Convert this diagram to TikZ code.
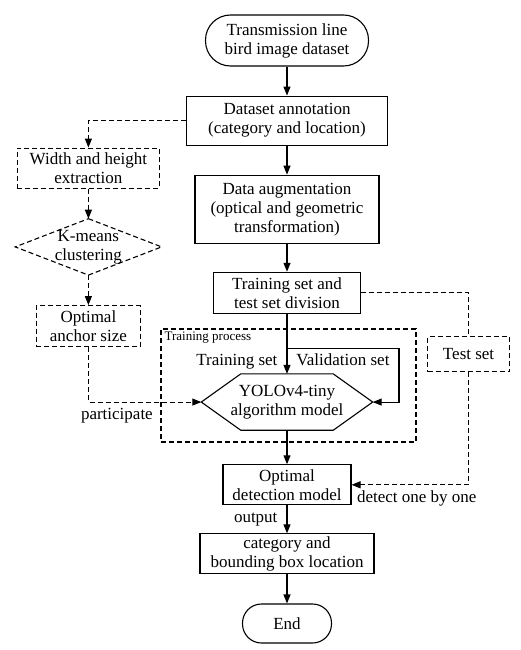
\documentclass[tikz,border=0pt]{standalone}
\usepackage{fontspec}
\setmainfont{Liberation Serif}
\usetikzlibrary{arrows.meta,positioning}
\tikzset{
  proc/.style={draw, line width=1.1pt, align=center, inner sep=2pt},
  dproc/.style={proc, dash pattern=on 5pt off 3pt},
  term/.style={proc, rounded corners=#1},
  shapebox/.style={align=center, inner sep=0pt},
  flow/.style={-{Triangle[length=9pt,width=7pt]}, line width=1.1pt},
  dflow/.style={flow, dash pattern=on 5pt off 3pt},
  dline/.style={line width=1.1pt, dash pattern=on 5pt off 3pt},
  lbl/.style={inner sep=0pt},
}

\begin{document}
\begin{tikzpicture}[x=1pt, y=1pt, font=\fontsize{17}{19}\selectfont, node distance=29pt]
  \useasboundingbox (0,0) rectangle (520,-650);
  % training process frame
  \node[dline, draw, minimum width=255pt, minimum height=113pt] (tp) at (288.5,-385.5) {};
  \node[lbl, anchor=north west, font=\fontsize{13}{15}\selectfont] (tpl) at ([xshift=4pt,yshift=-3pt]tp.north west) {Training process};
  % main column
  \node[term=25pt, minimum width=163pt, minimum height=51pt] (start) at (287,-40.5) {Transmission line\\bird image dataset};
  \node[proc, minimum width=201pt, minimum height=49pt, below=of start] (ann) {Dataset annotation\\(category and location)};
  \node[proc, minimum width=184pt, minimum height=68pt, below=of ann] (aug) {Data augmentation\\(optical and geometric\\transformation)};
  \node[proc, minimum width=147pt, minimum height=41pt, below=28pt of aug] (div) {Training set and\\test set division};
  \node[shapebox, minimum width=171pt, minimum height=56pt, below=60pt of div] (yolo) {YOLOv4-tiny\\algorithm model};
  \draw[line width=1.1pt] (yolo.west) -- ([xshift=39.5pt]yolo.north west) -- ([xshift=-39.5pt]yolo.north east)
    -- (yolo.east) -- ([xshift=-39.5pt]yolo.south east) -- ([xshift=39.5pt]yolo.south west) -- cycle;
  \node[proc, minimum width=128pt, minimum height=40pt, below=34pt of yolo] (opt) {Optimal\\detection model};
  \node[proc, minimum width=174pt, minimum height=40pt, below=28pt of opt] (res) {category and\\bounding box location};
  \node[term=19pt, minimum width=89pt, minimum height=39pt, below=of res] (end) {End};
  % left column
  \node[dproc, minimum width=142pt, minimum height=40pt, below left=27pt and 26pt of ann.west] (wh) {Width and height\\extraction};
  \node[shapebox, minimum width=146pt, minimum height=56pt, below=30pt of wh] (km) {K-means\\clustering};
  \draw[dline] (km.north) -- (km.east) -- (km.south) -- (km.west) -- cycle;
  \node[dproc, minimum width=104pt, minimum height=41pt, below=30pt of km] (anc) {Optimal\\anchor size};
  % right column
  \node[dproc, minimum width=82pt, minimum height=35pt, below right=43.5pt and 66pt of div.east] (test) {Test set};

  \draw[flow] (start) -- (ann);
  \draw[flow] (ann) -- (aug);
  \draw[flow] (aug) -- (div);
  \draw[flow] (div) -- node[lbl, pos=0.8, left=9pt] (lts) {Training set} (yolo);
  \draw[flow] ([yshift=-35pt]div.south) -- node[lbl, midway, below=4pt] (lvs) {Validation set} ++(112pt,0) |- (yolo.east);
  \draw[flow] (yolo) -- (opt);
  \draw[flow] (opt) -- node[lbl, left=9pt] (lout) {output} (res);
  \draw[flow] (res) -- (end);
  \draw[dflow] (ann.west) -| (wh.north);
  \draw[dflow] (wh) -- (km);
  \draw[dflow] (km) -- (anc);
  \draw[dflow] (anc.south) |- node[lbl, pos=0.5, anchor=north, xshift=28.5pt, yshift=-6pt] (lpar) {participate} (yolo.west);
  \draw[dline] (div.east) -| (test.north);
  \draw[dflow] (test.south) |- node[lbl, pos=1, anchor=north west, xshift=5pt, yshift=-5pt] (ldet) {detect one by one} (opt.east);
\end{tikzpicture}
\end{document}
